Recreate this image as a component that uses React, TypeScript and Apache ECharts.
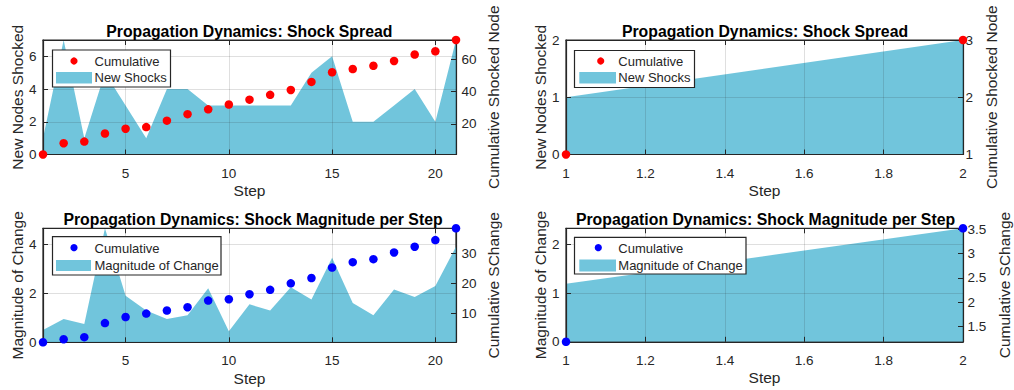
import React, { useEffect, useRef } from "react";
import * as echarts from "echarts";

// ---------- data ----------
const steps = [1, 2, 3, 4, 5, 6, 7, 8, 9, 10, 11, 12, 13, 14, 15, 16, 17, 18, 19, 20, 21];
const newShocks = [1, 7, 1, 5, 3, 1, 4, 4, 3, 3, 3, 3, 3, 5, 6, 2, 2, 3, 4, 2, 7];
const cumulativeShocked = [1, 8, 9, 14, 17, 18, 22, 26, 29, 32, 35, 38, 41, 46, 52, 54, 56, 59, 63, 65, 72];
const magnitude = [0.5, 0.95, 0.75, 4.65, 1.9, 1.3, 0.95, 1.1, 2.2, 0.45, 1.55, 1.3, 2.25, 1.75, 3.45, 1.6, 1.1, 2.15, 1.85, 2.3, 3.9];
const cumulativeMagnitude = [0.5, 1.5, 2.2, 6.85, 8.85, 10.0, 11.0, 12.1, 14.3, 14.75, 16.4, 17.85, 20.0, 21.75, 25.2, 27.0, 28.0, 30.2, 32.1, 34.3, 38.2];

const stepsShort = [1, 2];
const newShocksShort = [1, 2];
const cumulativeShockedShort = [1, 3];
const magnitudeShort = [1.19, 2.33];
const cumulativeMagnitudeShort = [1.19, 3.52];

const titleSpread = "Propagation Dynamics: Shock Spread";
const titleMagnitude = "Propagation Dynamics: Shock Magnitude per Step";

// ---------- styles ----------
const FONT = '"Liberation Sans", Arial, Helvetica, sans-serif';
const AX = "#262626";
const AREA = "rgba(77,182,211,0.8)";
const GRIDLINE = "rgba(38,38,38,0.15)";

type Panel = {
  grid: { left: number; top: number; width: number; height: number };
  title: string;
  titleX: number;
  titleTop: number;
  x: number[];
  area: number[];
  dots: number[];
  dotColor: string;
  xMin: number;
  xMax: number;
  xSplit: number;
  xShowEnds: boolean;
  yl: { min: number; max: number; interval: number; name: string; gap: number; showMax: boolean };
  yr: { min: number; max: number; split?: number; interval?: number; name: string; gap: number; margin: number; showEnds: boolean };
  legend: {
    box: [number, number, number, number];
    dot: [number, number];
    textX: number;
    row1: number;
    patch: [number, number, number, number];
    row2: number;
    label: string;
  };
};

const panels: Panel[] = [
  {
    grid: { left: 43, top: 40, width: 413, height: 114.5 },
    title: titleSpread, titleX: 249.3, titleTop: 23,
    x: steps, area: newShocks, dots: cumulativeShocked, dotColor: "#FF0000",
    xMin: 1, xMax: 21, xSplit: 4, xShowEnds: false,
    yl: { min: 0, max: 7, interval: 2, name: "New Nodes Shocked", gap: 17.5, showMax: false },
    yr: { min: 1, max: 72, split: 3, name: "Cumulative Shocked Node", gap: 29, margin: 5.5, showEnds: false },
    legend: { box: [52.5, 50, 118, 37], dot: [74, 61], textX: 94.5, row1: 61, patch: [56, 72, 36, 11.5], row2: 77.5, label: "New Shocks" },
  },
  {
    grid: { left: 566, top: 40, width: 397, height: 114.5 },
    title: titleSpread, titleX: 765, titleTop: 23,
    x: stepsShort, area: newShocksShort, dots: cumulativeShockedShort, dotColor: "#FF0000",
    xMin: 1, xMax: 2, xSplit: 5, xShowEnds: true,
    yl: { min: 0, max: 2, interval: 1, name: "New Nodes Shocked", gap: 17, showMax: true },
    yr: { min: 1, max: 3, interval: 1, name: "Cumulative Shocked Node", gap: 20.5, margin: 2.5, showEnds: true },
    legend: { box: [574.5, 50.5, 120, 37], dot: [600.7, 61], textX: 618.3, row1: 61, patch: [579.3, 72, 36.7, 11.5], row2: 77.5, label: "New Shocks" },
  },
  {
    grid: { left: 43, top: 228.3, width: 413, height: 114 },
    title: titleMagnitude, titleX: 253, titleTop: 211.2,
    x: steps, area: magnitude, dots: cumulativeMagnitude, dotColor: "#0000FF",
    xMin: 1, xMax: 21, xSplit: 4, xShowEnds: false,
    yl: { min: 0, max: 4.65, interval: 2, name: "Magnitude of Change", gap: 17.5, showMax: false },
    yr: { min: 0.5, max: 38.2, split: 4, name: "Cumulative SChange", gap: 29.5, margin: 5.5, showEnds: false },
    legend: { box: [52.5, 236.7, 168.5, 38.3], dot: [74, 247.7], textX: 94.5, row1: 248, patch: [56, 260, 35, 11], row2: 265, label: "Magnitude of Change" },
  },
  {
    grid: { left: 566, top: 228.3, width: 397, height: 113.5 },
    title: titleMagnitude, titleX: 765.5, titleTop: 211.2,
    x: stepsShort, area: magnitudeShort, dots: cumulativeMagnitudeShort, dotColor: "#0000FF",
    xMin: 1, xMax: 2, xSplit: 5, xShowEnds: true,
    yl: { min: 0, max: 2.33, interval: 1, name: "Magnitude of Change", gap: 17, showMax: false },
    yr: { min: 1.19, max: 3.52, split: 5, name: "Cumulative SChange", gap: 33.5, margin: 4.5, showEnds: false },
    legend: { box: [574.5, 237.3, 171.5, 36.7], dot: [598.3, 247.7], textX: 618.3, row1: 248, patch: [579.3, 259.5, 36.7, 12], row2: 265, label: "Magnitude of Change" },
  },
];

function buildOption() {
  const grid: any[] = [];
  const xAxis: any[] = [];
  const yAxis: any[] = [];
  const series: any[] = [];
  const title: any[] = [];
  const graphic: any[] = [];

  const axisLine = { show: true, onZero: false, lineStyle: { color: AX, width: 1.2 } };
  const axisTick = { show: true, inside: true, length: 5, lineStyle: { color: AX, width: 1 } };
  const labelStyle = { fontSize: 13.5, color: AX, fontFamily: FONT };
  const nameStyle = { fontSize: 15.5, color: AX, fontFamily: FONT };

  panels.forEach((p, gi) => {
    grid.push({ ...p.grid, show: true, borderColor: AX, borderWidth: 1.2, backgroundColor: "#fff" });
    title.push({
      text: p.title,
      left: p.titleX,
      top: p.titleTop,
      textAlign: "center",
      padding: 0,
      textStyle: { fontSize: 15.8, fontWeight: "bold", color: "#000", fontFamily: FONT },
    });

    // bottom x axis
    xAxis.push({
      type: "value", gridIndex: gi, position: "bottom", min: p.xMin, max: p.xMax, splitNumber: p.xSplit,
      name: "Step", nameLocation: "middle", nameGap: 28, nameTextStyle: nameStyle,
      axisLine, axisTick,
      axisLabel: { ...labelStyle, margin: 11.5, showMinLabel: p.xShowEnds, showMaxLabel: p.xShowEnds },
      splitLine: { show: true, lineStyle: { color: GRIDLINE, width: 1 } },
      z: 3,
    });
    // top x axis (box)
    xAxis.push({
      type: "value", gridIndex: gi, position: "top", min: p.xMin, max: p.xMax, splitNumber: p.xSplit,
      axisLine, axisTick, axisLabel: { show: false }, splitLine: { show: false }, z: 3,
    });
    // left y axis
    yAxis.push({
      type: "value", gridIndex: gi, position: "left", min: p.yl.min, max: p.yl.max, interval: p.yl.interval,
      name: p.yl.name, nameLocation: "middle", nameRotate: 90, nameGap: p.yl.gap, nameTextStyle: nameStyle,
      axisLine, axisTick,
      axisLabel: { ...labelStyle, margin: 6.5, showMinLabel: true, showMaxLabel: p.yl.showMax },
      splitLine: { show: true, lineStyle: { color: GRIDLINE, width: 1 } },
      z: 3,
    });
    // right y axis
    const yr: any = {
      type: "value", gridIndex: gi, position: "right", min: p.yr.min, max: p.yr.max,
      name: p.yr.name, nameLocation: "middle", nameRotate: 90, nameGap: p.yr.gap,
      nameTextStyle: nameStyle,
      axisLine, axisTick,
      axisLabel: { ...labelStyle, margin: p.yr.margin, showMinLabel: p.yr.showEnds, showMaxLabel: p.yr.showEnds },
      splitLine: { show: false },
      z: 3,
    };
    if (p.yr.interval != null) yr.interval = p.yr.interval;
    if (p.yr.split != null) yr.splitNumber = p.yr.split;
    yAxis.push(yr);

    series.push({
      type: "line",
      name: p.legend.label,
      xAxisIndex: gi * 2,
      yAxisIndex: gi * 2,
      data: p.x.map((s, i) => [s, p.area[i]]),
      symbol: "none",
      lineStyle: { width: 0, opacity: 0 },
      areaStyle: { color: AREA, opacity: 1 },
      silent: true,
      z: 2,
    });
    series.push({
      type: "scatter",
      name: "Cumulative",
      xAxisIndex: gi * 2,
      yAxisIndex: gi * 2 + 1,
      data: p.x.map((s, i) => [s, p.dots[i]]),
      symbolSize: 8.5,
      itemStyle: { color: p.dotColor, opacity: 1 },
      clip: false,
      z: 6,
    });

    const L = p.legend;
    graphic.push({
      type: "group",
      z: 20,
      children: [
        { type: "rect", shape: { x: L.box[0], y: L.box[1], width: L.box[2], height: L.box[3] }, style: { fill: "#fff", stroke: AX, lineWidth: 1.2 }, z: 20 },
        { type: "circle", shape: { cx: L.dot[0], cy: L.dot[1], r: 3.6 }, style: { fill: p.dotColor }, z: 21 },
        { type: "text", x: L.textX, y: L.row1, style: { text: "Cumulative", fontSize: 13, fontFamily: FONT, fill: AX, verticalAlign: "middle", align: "left" }, z: 21 },
        { type: "rect", shape: { x: L.patch[0], y: L.patch[1], width: L.patch[2], height: L.patch[3] }, style: { fill: AREA }, z: 21 },
        { type: "text", x: L.textX, y: L.row2, style: { text: L.label, fontSize: 13, fontFamily: FONT, fill: AX, verticalAlign: "middle", align: "left" }, z: 21 },
      ],
    });
  });

  return {
    animation: false,
    backgroundColor: "#fff",
    title,
    grid,
    xAxis,
    yAxis,
    series,
    graphic,
  };
}

export default function App() {
  const ref = useRef<HTMLDivElement>(null);
  useEffect(() => {
    if (!ref.current) return;
    const chart = echarts.init(ref.current, undefined, { renderer: "svg" });
    chart.setOption(buildOption() as any);
    return () => chart.dispose();
  }, []);
  return (
    <div
      ref={ref}
      style={{ position: "fixed", left: 0, top: 0, width: 1014, height: 390, background: "#fff" }}
    />
  );
}
